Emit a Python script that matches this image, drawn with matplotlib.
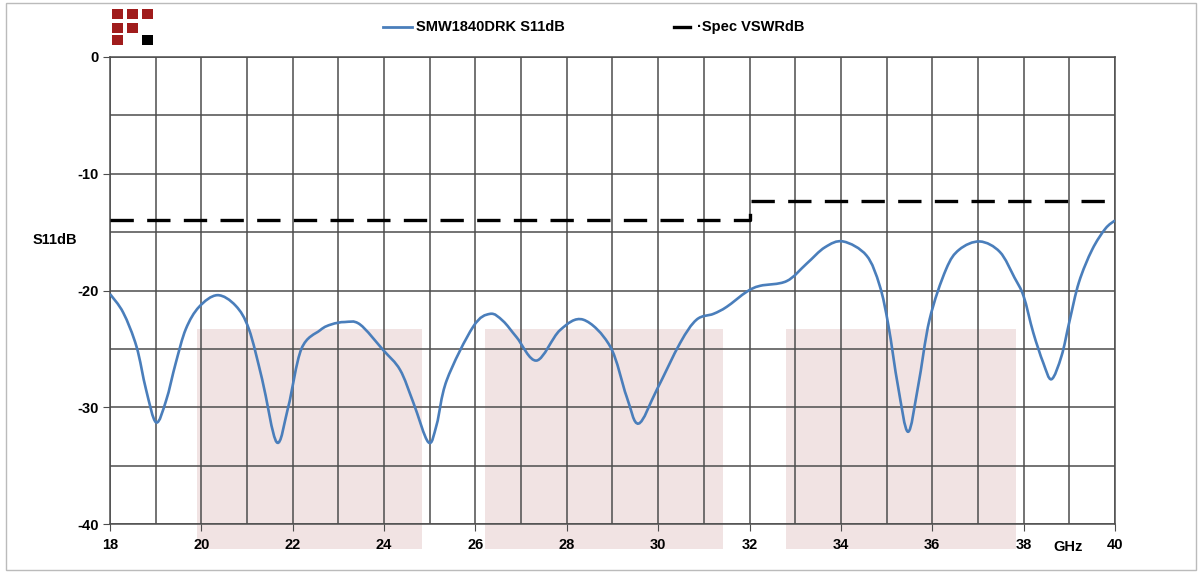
import matplotlib
matplotlib.use("Agg")
import matplotlib.pyplot as plt
from matplotlib.patches import Rectangle, PathPatch
from matplotlib.lines import Line2D
from matplotlib.path import Path

plt.rcParams['font.family'] = ['Liberation Sans', 'DejaVu Sans']

# S11 readout (GHz, dB)
freq = [18.0, 18.29, 18.58, 18.79, 19.01, 19.23, 19.44, 19.66, 19.95, 20.35, 20.75, 21.04,
        21.33, 21.65, 21.9, 22.19, 22.6, 22.85, 23.14, 23.47, 23.98, 24.35, 24.64, 24.97,
        25.15, 25.37, 25.95, 26.32, 26.6, 26.9, 27.34, 27.85, 28.36, 28.95, 29.31, 29.57,
        29.97, 30.48, 30.84, 31.21, 31.5, 31.94, 32.23, 32.81, 33.25, 33.65, 34.05, 34.56,
        34.85, 35.04, 35.25, 35.47, 35.69, 35.94, 36.3, 36.59, 37.04, 37.48, 37.8, 38.0,
        38.21, 38.43, 38.61, 38.83, 39.0, 39.21, 39.5, 39.79, 40.0]
s11 = [-20.3, -21.9, -24.8, -28.5, -31.3, -29.4, -26.2, -23.3, -21.4, -20.4, -21.3, -23.3,
       -27.6, -33.0, -30.0, -25.0, -23.4, -22.9, -22.7, -22.9, -25.1, -26.8, -29.6, -33.0,
       -31.5, -27.7, -23.1, -22.0, -22.6, -24.0, -26.0, -23.4, -22.5, -24.8, -29.1, -31.4,
       -28.5, -24.5, -22.5, -22.0, -21.4, -20.1, -19.6, -19.2, -17.7, -16.3, -15.8, -17.0,
       -19.6, -23.0, -28.2, -32.1, -28.2, -22.5, -18.2, -16.5, -15.8, -16.7, -18.9, -20.5,
       -23.6, -26.2, -27.6, -25.6, -22.7, -19.3, -16.5, -14.7, -14.0]

spec_freq = [18, 32, 32, 40]
spec_db = [-14.0, -14.0, -12.3, -12.3]

bands = [(19.9, 24.83), (26.21, 31.42), (32.8, 37.83)]
band_top = -23.3
band_bottom = -42.1

xtick_vals = [18, 20, 22, 24, 26, 28, 30, 32, 34, 36, 38, 40]
ytick_vals = [0, -10, -20, -30, -40]


def smooth_path(xs, ys, t=1 / 6):
    # smoothed line like a spreadsheet chart: cubic bezier through each point
    verts = [(xs[0], ys[0])]
    codes = [Path.MOVETO]
    n = len(xs)
    for i in range(n - 1):
        x0, y0 = xs[max(i - 1, 0)], ys[max(i - 1, 0)]
        x1, y1 = xs[i], ys[i]
        x2, y2 = xs[i + 1], ys[i + 1]
        x3, y3 = xs[min(i + 2, n - 1)], ys[min(i + 2, n - 1)]
        verts += [(x1 + (x2 - x0) * t, y1 + (y2 - y0) * t),
                  (x2 - (x3 - x1) * t, y2 - (y3 - y1) * t),
                  (x2, y2)]
        codes += [Path.CURVE4] * 3
    return Path(verts, codes)


fig = plt.figure(figsize=(11.98, 5.74), dpi=100)
ax = fig.add_axes([110 / 1198, 50 / 574, 1005 / 1198, 467 / 574])

grid_c = '#4d4d4d'
for x0, x1 in bands:
    ax.add_patch(Rectangle((x0, band_bottom), x1 - x0, band_top - band_bottom,
                           facecolor='#f1e3e3', edgecolor='none', zorder=0, clip_on=False))

ax.set_xlim(18, 40)
ax.set_ylim(-40, 0)
ax.set_xticks(xtick_vals)
ax.set_xticks(range(18, 41), minor=True)
ax.set_yticks(ytick_vals)
ax.set_yticks(range(-40, 1, 5), minor=True)
ax.grid(True, which='both', color=grid_c, linewidth=1.1, zorder=1)
ax.set_axisbelow(True)
for s in ax.spines.values():
    s.set_color(grid_c)
    s.set_linewidth(1.1)
ax.patch.set_alpha(0)

ax.set_xticklabels([str(v) for v in xtick_vals], fontsize=10.5, fontweight='bold')
ax.set_yticklabels([str(v) for v in ytick_vals], fontsize=10.5, fontweight='bold')
ax.tick_params(which='major', length=5, color=grid_c, pad=3)
ax.tick_params(which='minor', length=0)
ax.tick_params(axis='x', which='major', pad=5)

ax.add_patch(PathPatch(smooth_path(freq, s11), facecolor='none', edgecolor='#4a7ebb',
                       linewidth=1.9, zorder=3))
ax.plot(spec_freq, spec_db, color='black', linewidth=2.4, dashes=(7, 4), zorder=3)

ax.text(-0.033, -15.7, 'S11dB', transform=ax.get_yaxis_transform(), ha='right', va='center',
        fontsize=10.5, fontweight='bold')
ax.text(38.97, -42.0, 'GHz', ha='center', va='center', fontsize=10.5, fontweight='bold')

# legend drawn as figure elements
fig.add_artist(Line2D([383 / 1198, 412 / 1198], [1 - 27 / 574] * 2, color='#4a7ebb', linewidth=2))
fig.text(416 / 1198, 1 - 27 / 574, 'SMW1840DRK S11dB', fontsize=10.5, fontweight='bold', va='center')
fig.add_artist(Line2D([674 / 1198, 690 / 1198], [1 - 27 / 574] * 2, color='black', linewidth=2.4))
fig.text(697 / 1198, 1 - 27 / 574, '·Spec VSWRdB', fontsize=10.5, fontweight='bold', va='center')

# logo squares
logo_x = [112, 127, 142]
logo_y = [9, 23, 35]
cells = [(0, 0, '#a01c1c'), (0, 1, '#a01c1c'), (0, 2, '#a01c1c'),
         (1, 0, '#a01c1c'), (1, 1, '#a01c1c'),
         (2, 0, '#a01c1c'), (2, 2, 'black')]
for r, c, col in cells:
    fig.add_artist(Rectangle((logo_x[c] / 1198, 1 - (logo_y[r] + 9.5) / 574), 11 / 1198, 9.5 / 574,
                             facecolor=col, edgecolor='none', transform=fig.transFigure))

fig.add_artist(Rectangle((6 / 1198, 4 / 574), 1190 / 1198, 567 / 574, facecolor='none',
                         edgecolor='#bbbbbb', linewidth=1, transform=fig.transFigure))

fig.savefig('out.png', dpi=100)
